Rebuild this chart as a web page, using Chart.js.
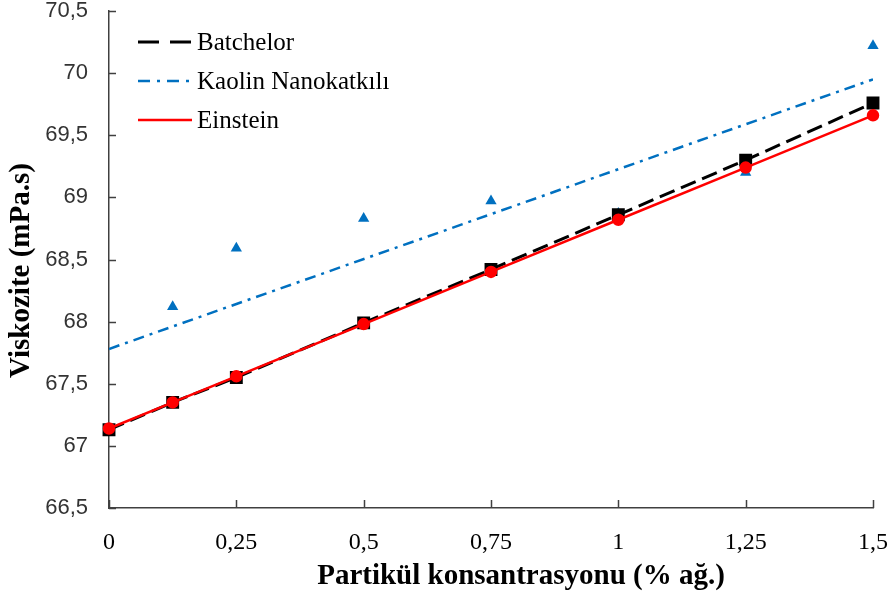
<!DOCTYPE html>
<html>
<head>
<meta charset="utf-8">
<style>
  html, body { margin: 0; padding: 0; background: #fff; }
  #wrap { width: 889px; height: 597px; position: relative; }
</style>
<script src="https://cdn.jsdelivr.net/npm/chart.js@4.4.1/dist/chart.umd.min.js"></script>
</head>
<body>
<div id="wrap"><canvas id="chart" width="889" height="597"></canvas></div>
<script>
// values
var xVals = [0, 0.125, 0.25, 0.5, 0.75, 1, 1.25, 1.5];
var batchelor = [67.13, 67.35, 67.55, 67.99, 68.42, 68.86, 69.30, 69.76];
var einstein = [67.14, 67.35, 67.56, 67.98, 68.40, 68.82, 69.24, 69.66];
var kaolin = [67.14, 68.12, 68.59, 68.83, 68.97, 68.87, 69.20, 70.22];
var kaolinTrendX = [0, 1.5];
var kaolinTrendY = [67.78, 69.95];
var xTicks = [0, 0.25, 0.5, 0.75, 1, 1.25, 1.5];
var yTicks = [66.5, 67, 67.5, 68, 68.5, 69, 69.5, 70, 70.5];
var xTitle = "Partikül konsantrasyonu (% ağ.)";
var yTitle = "Viskozite (mPa.s)";

function pts(xs, ys) {
    return xs.map(function (x, i) { return { x: x, y: ys[i] }; });
}
function comma(v) {
    return String(v).replace(".", ",");
}

var serif = "'Liberation Serif', 'Times New Roman', serif";
var sans = "'Liberation Sans', Arial, sans-serif";
var blue = "#0070C0";

// inside tick marks for both axes
var innerTicks = {
    id: "innerTicks",
    afterDraw: function (chart) {
        var ctx = chart.ctx, a = chart.chartArea;
        var xs = chart.scales.x, ys = chart.scales.y;
        ctx.save();
        ctx.strokeStyle = "#404040";
        ctx.lineWidth = 1.5;
        ctx.beginPath();
        yTicks.forEach(function (v) {
            var y = Math.round(ys.getPixelForValue(v)) + 0.5;
            ctx.moveTo(a.left, y);
            ctx.lineTo(a.left + 7, y);
        });
        xTicks.forEach(function (v) {
            var x = Math.round(xs.getPixelForValue(v)) + 0.5;
            ctx.moveTo(x, a.bottom);
            ctx.lineTo(x, a.bottom - 8);
        });
        ctx.stroke();
        ctx.restore();
    }
};

// axis titles: the reference sets them a little off centre
var axisTitles = {
    id: "axisTitles",
    afterDraw: function (chart) {
        var ctx = chart.ctx, a = chart.chartArea;
        ctx.save();
        ctx.font = "bold 29px " + serif;
        ctx.fillStyle = "#000";
        ctx.textAlign = "center";
        ctx.textBaseline = "middle";
        ctx.fillText(xTitle, (a.left + a.right) / 2 + 30, 577);
        ctx.translate(22, (a.top + a.bottom) / 2 + 11);
        ctx.rotate(-Math.PI / 2);
        ctx.fillText(yTitle, 0, 0);
        ctx.restore();
    }
};

// legend inside the plot, lines only
var legendItems = [
    { label: "Batchelor", color: "#000", dash: [21, 11], width: 3 },
    { label: "Kaolin Nanokatkılı", color: blue, dash: [12, 7, 3, 7], width: 2.5 },
    { label: "Einstein", color: "#ff0000", dash: [], width: 2.5 }
];
var innerLegend = {
    id: "innerLegend",
    afterDraw: function (chart) {
        var ctx = chart.ctx;
        ctx.save();
        ctx.font = "25px " + serif;
        ctx.textBaseline = "middle";
        legendItems.forEach(function (it, i) {
            var y = 42 + i * 39;
            ctx.beginPath();
            ctx.setLineDash(it.dash);
            ctx.strokeStyle = it.color;
            ctx.lineWidth = it.width;
            ctx.moveTo(138, y);
            ctx.lineTo(192, y);
            ctx.stroke();
            ctx.setLineDash([]);
            ctx.fillStyle = "#000";
            ctx.fillText(it.label, 197, y + 1);
        });
        ctx.restore();
    }
};

new Chart(document.getElementById("chart"), {
    type: "line",
    data: {
        datasets: [{
            label: "Einstein",
            data: pts(xVals, einstein),
            borderColor: "#ff0000",
            backgroundColor: "#ff0000",
            borderWidth: 2.5,
            pointStyle: "circle",
            pointRadius: 5,
            clip: false,
            order: 0
        }, {
            label: "Batchelor",
            data: pts(xVals, batchelor),
            borderColor: "#000",
            backgroundColor: "#000",
            borderWidth: 3,
            borderDash: [16, 7],
            pointStyle: "rect",
            pointRadius: 7,
            clip: false,
            order: 1
        }, {
            label: "Kaolin",
            data: pts(xVals, kaolin),
            showLine: false,
            borderColor: blue,
            backgroundColor: blue,
            pointStyle: "triangle",
            pointRadius: 6.5,
            pointBorderWidth: 0,
            clip: false,
            order: 2
        }, {
            label: "Kaolin Nanokatkılı",
            data: pts(kaolinTrendX, kaolinTrendY),
            borderColor: blue,
            borderWidth: 2.5,
            borderDash: [11, 6, 3, 6],
            pointRadius: 0,
            order: 3
        }]
    },
    options: {
        responsive: false,
        animation: false,
        events: [],
        layout: { padding: { top: 11, right: 16, left: 0, bottom: 0 } },
        plugins: { legend: { display: false }, tooltip: { enabled: false } },
        scales: {
            x: {
                type: "linear",
                min: 0,
                max: 1.5,
                afterBuildTicks: function (s) { s.ticks = xTicks.map(function (v) { return { value: v }; }); },
                afterFit: function (s) { s.height = 89; s.paddingLeft = 0; s.paddingRight = 0; },
                grid: { display: false, drawTicks: false },
                border: { display: true, color: "#404040", width: 1.5 },
                ticks: {
                    padding: 20,
                    maxRotation: 0,
                    color: "#000",
                    font: { family: serif, size: 24 },
                    callback: function (v) { return comma(v); }
                }
            },
            y: {
                min: 66.5,
                max: 70.5,
                afterBuildTicks: function (s) { s.ticks = yTicks.map(function (v) { return { value: v }; }); },
                afterFit: function (s) { s.width = 109; s.paddingTop = 0; s.paddingBottom = 0; },
                grid: { display: false, drawTicks: false },
                border: { display: true, color: "#404040", width: 1.5 },
                ticks: {
                    padding: 21,
                    color: "#333",
                    font: { family: sans, size: 22 },
                    callback: function (v) { return comma(v); }
                }
            }
        }
    },
    plugins: [innerTicks, axisTitles, innerLegend]
});
</script>
</body>
</html>
